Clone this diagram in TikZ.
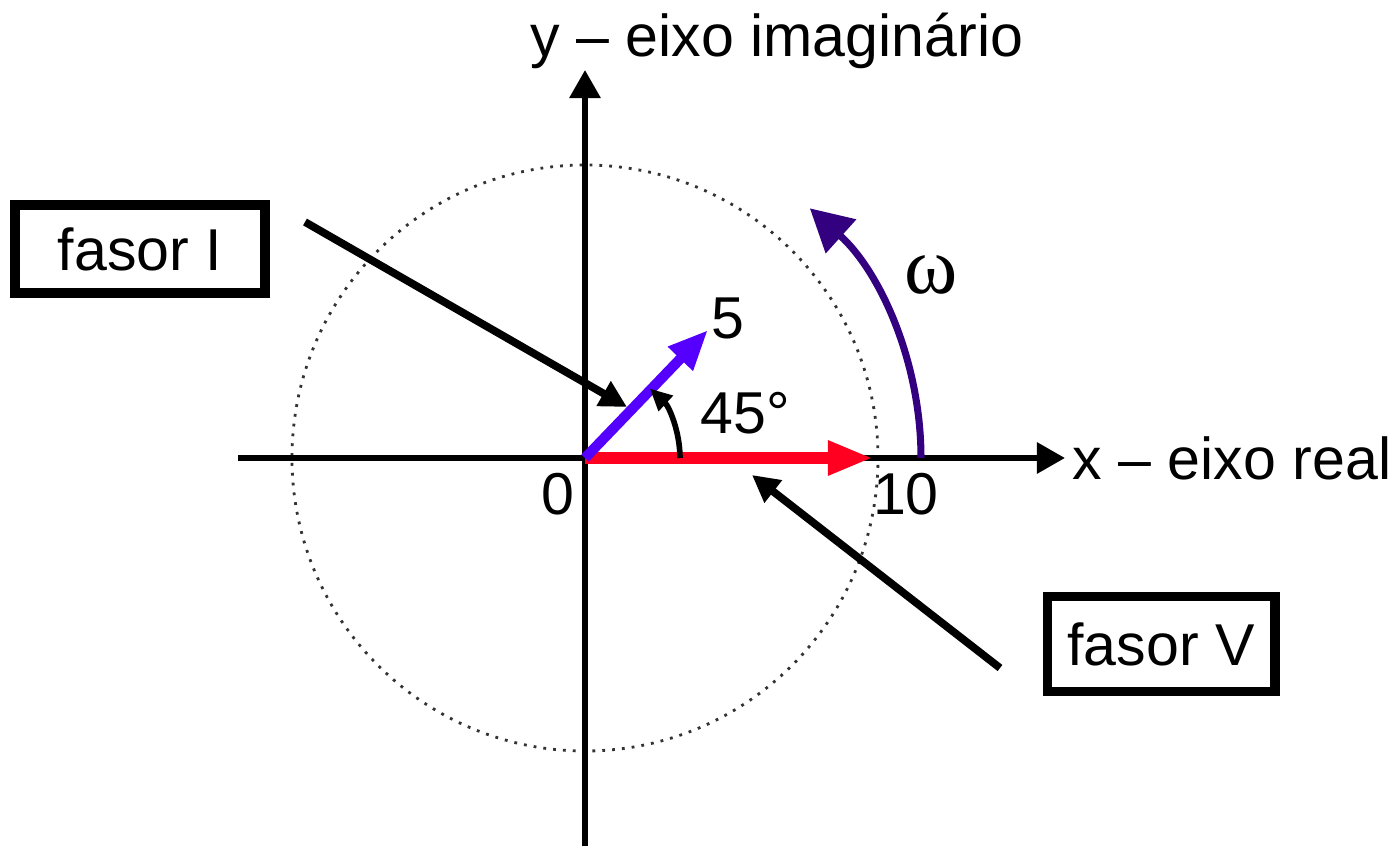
\documentclass[tikz,border=0pt]{standalone}
\usepackage{fontspec}
\setmainfont{Liberation Sans}
\newfontfamily\greekfont{Liberation Serif}
\usetikzlibrary{arrows.meta}
\definecolor{vcolor}{RGB}{255,0,32}
\definecolor{icolor}{RGB}{85,0,255}
\definecolor{omegacolor}{RGB}{51,0,128}
\begin{document}
\begin{tikzpicture}[
    x=0.01cm, y=0.01cm,
    every node/.style={font=\fontsize{16.8}{20}\selectfont},
    axis/.style={-{Triangle[length=0.28cm,width=0.3cm]}, line width=1.7pt},
    vphasor/.style={-{Triangle[length=0.45cm,width=0.32cm]}, line width=3.2pt, color=vcolor},
    iphasor/.style={-{Triangle[length=0.4cm,width=0.32cm]}, line width=2.9pt, color=icolor},
    pointer/.style={-{Triangle[length=0.27cm,width=0.27cm]}, line width=2.2pt},
    anglearr/.style={-{Triangle[length=0.22cm,width=0.2cm]}, line width=1.6pt},
    omegaarr/.style={-{Triangle[length=0.42cm,width=0.44cm]}, line width=2pt, color=omegacolor},
    labelbox/.style={draw, line width=2.8pt, minimum width=2.5cm, minimum height=0.88cm,
                     inner sep=0pt},
]
\useasboundingbox (-585,-388) rectangle (806,458);

%% ── Circle and axes ──────────────────────────────────────────────────────────
\coordinate (O) at (0,0);
\draw[dotted, line width=0.8pt, black!80] (O) circle[radius=293];
\coordinate (xstart) at (-347,0);
\coordinate (xend) at (480,0);
\coordinate (ystart) at (0,-388);
\coordinate (yend) at (0,388);
\draw[axis] (xstart) -- (xend);
\draw[axis] (ystart) -- (yend);

\node[anchor=west, inner sep=2pt] (xlabel) at (xend) {x – eixo real};
\node (ylabel) at (192,417) {y – eixo imaginário};
\node (zero) at (-27,-36) {0};
\node (ten) at (321,-36) {10};

%% ── Phasors ──────────────────────────────────────────────────────────────────
\coordinate (vtip) at (288,0);
\coordinate (itip) at (123,128);
\draw[vphasor] (O) -- (vtip);
\draw[iphasor] (O) -- (itip);
\node (mag) at (143,140) {5};

%% ── Angle and rotation ───────────────────────────────────────────────────────
\draw[anglearr] (95,0) arc[start angle=0, end angle=47, radius=95];
\node (angle) at (160,45) {45°};
\draw[omegaarr] (336,0) arc[start angle=0, end angle=48, radius=336];
\node[font=\fontsize{23}{26}\greekfont] (omega) at (346,183) {ω};

%% ── Labels with pointers ─────────────────────────────────────────────────────
\node[labelbox] (fasorI) at (-445,209) {fasor I};
\node[labelbox, minimum width=2.27cm, minimum height=0.95cm] (fasorV) at (576,-186) {fasor V};
\coordinate (Istart) at (-280,236);
\coordinate (Iend) at (42,51);
\coordinate (Vstart) at (415,-210);
\coordinate (Vend) at (167,-17);
\draw[pointer] (Istart) -- (Iend);
\draw[pointer] (Vstart) -- (Vend);

\end{tikzpicture}
\end{document}
